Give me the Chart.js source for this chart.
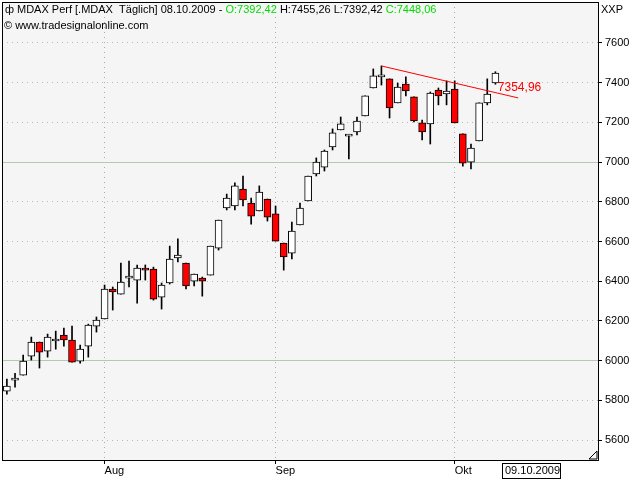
<!DOCTYPE html>
<html>
<head>
<meta charset="utf-8">
<script src="https://cdn.jsdelivr.net/npm/chart.js@4"></script>
<style>
  html, body { margin: 0; padding: 0; background: #fff; }
  #wrap { width: 640px; height: 480px; }
</style>
</head>
<body>
<div id="wrap"><canvas id="myChart" width="640" height="480"></canvas></div>
<script>
// daily candles 16.07.2009 .. 08.10.2009
const dates = ["16.07","17.07","20.07","21.07","22.07","23.07","24.07","27.07","28.07","29.07","30.07","31.07",
  "03.08","04.08","05.08","06.08","07.08","10.08","11.08","12.08","13.08","14.08","17.08","18.08","19.08","20.08","21.08",
  "24.08","25.08","26.08","27.08","28.08","31.08",
  "01.09","02.09","03.09","04.09","07.09","08.09","09.09","10.09","11.09","14.09","15.09","16.09","17.09","18.09",
  "21.09","22.09","23.09","24.09","25.09","28.09","29.09","30.09",
  "01.10","02.10","05.10","06.10","07.10","08.10"];
const opens  = [5847,5902,5927,6023,6094,6048,6099,6129,6104,5998,6073,6174,6210,6361,6335,6416,6406,6466,6461,6320,6391,6517,6492,6401,6416,6431,6567,
  6769,6779,6864,6794,6754,6814,6739,6592,6542,6683,6804,6940,6975,7076,7162,7131,7152,7232,7373,7429,7419,7298,7393,7328,7197,7192,7363,7343,7368,7142,7000,7106,7298,7398];
const highs  = [5907,5937,6028,6119,6094,6134,6149,6164,6174,6078,6184,6220,6381,6371,6492,6502,6482,6482,6471,6391,6577,6613,6492,6436,6421,6577,6708,
  6839,6895,6930,6819,6880,6814,6779,6592,6698,6794,6930,7021,7061,7167,7227,7137,7227,7333,7469,7484,7419,7398,7429,7328,7212,7353,7373,7409,7409,7142,7091,7298,7419,7455];
const lows   = [5832,5867,5927,6003,5963,6018,6058,6073,5993,5988,6018,6144,6210,6255,6335,6371,6290,6406,6305,6260,6386,6497,6361,6376,6325,6431,6557,
  6759,6759,6779,6688,6754,6703,6602,6456,6512,6683,6804,6930,6955,7061,7162,7016,7137,7232,7373,7388,7222,7298,7333,7202,7111,7091,7288,7288,7197,6980,6965,7106,7288,7392];
const closes = [5872,5902,5998,6094,6043,6119,6099,6104,5993,6058,6179,6204,6361,6346,6396,6416,6466,6456,6310,6381,6512,6532,6376,6436,6401,6577,6708,
  6819,6880,6809,6728,6849,6723,6602,6522,6653,6769,6930,7000,7056,7147,7192,7131,7207,7333,7434,7429,7273,7378,7358,7207,7152,7348,7333,7358,7197,6995,7071,7298,7343,7448];
const yTicks = [5600,5800,6000,6200,6400,6600,6800,7000,7200,7400,7600];
const monthIdx = [12,33,55];
const monthNames = ["Aug","Sep","Okt"];
const trendX = [46,62.8];
const trendY = [7484,7323];
const trendLabel = "7354,96";

const bodies = opens.map((o,i) => ({x:i, y:[o, closes[i]]}));
const wicks = lows.map((l,i) => ({x:i, y:[l, highs[i]]}));
const bodyColors = opens.map((o,i) => closes[i] < o ? "#ff0000" : "#ffffff");
const FONT = "'Liberation Sans', Arial";
const isMain = c => c.tick && (c.tick.value === 6000 || c.tick.value === 7000);

const frame = {
  id: "frame",
  beforeDraw(chart) {
    const {ctx, chartArea: a} = chart;
    ctx.save();
    ctx.fillStyle = "#f5f5f5";
    ctx.fillRect(a.left, a.top, a.right - a.left, a.bottom - a.top);
    ctx.restore();
  },
  afterDraw(chart) {
    const {ctx, chartArea: a, scales} = chart;
    ctx.save();
    ctx.strokeStyle = "#000";
    ctx.lineWidth = 1;
    ctx.strokeRect(a.left + 0.5, a.top + 0.5, a.right - a.left, a.bottom - a.top);
    ctx.font = "11px " + FONT;
    ctx.textBaseline = "middle";
    // y labels
    ctx.fillStyle = "#000";
    yTicks.forEach(v => ctx.fillText(String(v), a.right + 7, scales.y.getPixelForValue(v)));
    // header
    let x = 17;
    const parts = [["MDAX Perf [.MDAX  Täglich] 08.10.2009 - ","#000"],["O:7392,42 ","#00dd00"],["H:7455,26 L:7392,42 ","#000"],["C:7448,06","#00dd00"]];
    parts.forEach(p => { ctx.fillStyle = p[1]; ctx.fillText(p[0], x, 10); x += ctx.measureText(p[0]).width; });
    ctx.fillStyle = "#000";
    ctx.fillText("\u0444", 5, 10);
    ctx.fillText("\u00a9 www.tradesignalonline.com", 4, 26);
    ctx.fillText("XXP", 601, 10);
    // trend label
    ctx.fillStyle = "#ff0000";
    ctx.font = "12px " + FONT;
    ctx.fillText(trendLabel, scales.x.getPixelForValue(60.3), scales.y.getPixelForValue(7375));
    // date box
    ctx.font = "11px " + FONT;
    ctx.fillStyle = "#fff";
    ctx.fillRect(502, 463, 58, 15);
    ctx.strokeRect(502.5, 463.5, 58, 15);
    ctx.fillStyle = "#000";
    ctx.fillText("09.10.2009", 505, 471);
    // corner mark
    ctx.beginPath();
    ctx.moveTo(597, 451); ctx.lineTo(597, 459); ctx.lineTo(589, 459); ctx.closePath();
    ctx.stroke();
    ctx.restore();
  }
};

new Chart(document.getElementById("myChart"), {
  type: "bar",
  data: {
    datasets: [
      { type: "line", data: trendX.map((x,i) => ({x, y: trendY[i]})), borderColor: "#ff0000", borderWidth: 1, pointRadius: 0, order: 0 },
      { data: bodies, backgroundColor: bodyColors, borderColor: "#000", borderWidth: 1, borderSkipped: false, barThickness: 7, minBarLength: 2, grouped: false, order: 1 },
      { data: wicks, backgroundColor: "#000", barThickness: 1, grouped: false, order: 2 }
    ]
  },
  options: {
    responsive: false,
    animation: false,
    layout: { padding: { left: 2, top: 2, right: 0, bottom: 0 } },
    plugins: { legend: { display: false }, tooltip: { enabled: false } },
    scales: {
      x: {
        type: "linear", min: -0.6, max: 72.6, offset: false,
        afterBuildTicks: s => { s.ticks = monthIdx.map(v => ({value: v})); },
        afterFit: s => { s.height = 20; },
        ticks: { callback: v => monthNames[monthIdx.indexOf(v)], color: "#000", font: {size: 11, family: FONT}, maxRotation: 0, padding: 0, align: "start" },
        grid: { offset: false, color: "#aaa", tickLength: 4, tickColor: "#000" },
        border: { display: false, dash: [1, 4] }
      },
      y: {
        position: "right", min: 5500, max: 7806,
        afterBuildTicks: s => { s.ticks = yTicks.map(v => ({value: v})); },
        afterFit: s => { s.width = 42; },
        ticks: { display: false },
        grid: { color: c => isMain(c) ? "#b0ccb0" : "#b8b8b8", tickLength: 4, tickColor: "#000" },
        border: { display: false, dash: c => isMain(c) ? [] : [1, 4] }
      }
    }
  },
  plugins: [frame]
});
</script>
</body>
</html>
